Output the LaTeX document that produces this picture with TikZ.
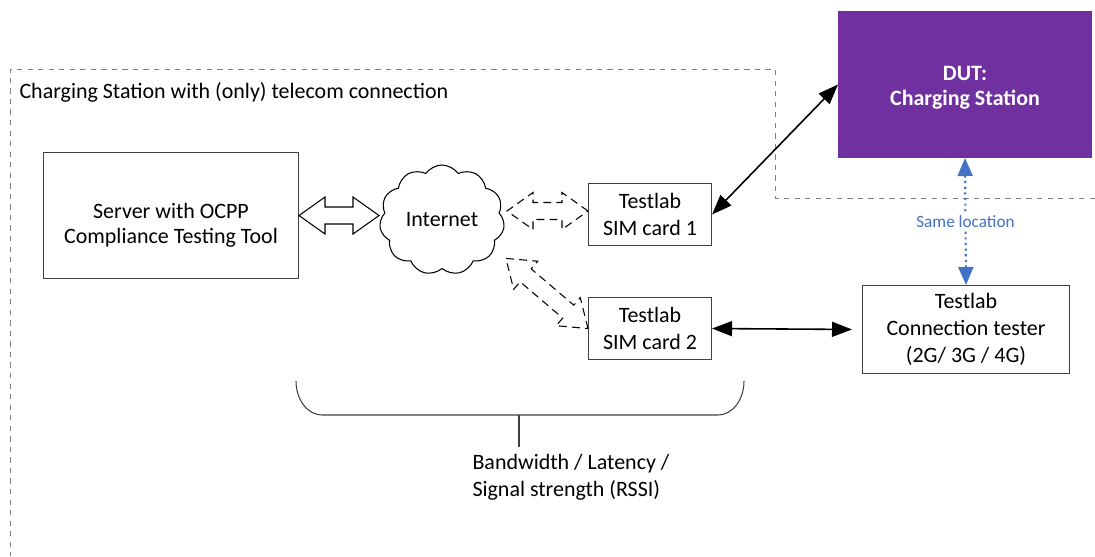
\documentclass[tikz,border=0pt]{standalone}
\usepackage{fontspec}
\setmainfont{Carlito}
\usepackage{tikz}
\usetikzlibrary{positioning, shapes.symbols, arrows.meta}

\definecolor{dutpurple}{HTML}{7030A0}
\definecolor{locblue}{HTML}{4472C4}
\definecolor{linegray}{HTML}{404040}

\tikzset{
  box/.style={draw=linegray, fill=white, align=center, anchor=north west, inner sep=2pt},
  link/.style={{Triangle[length=4mm,width=3mm]}-{Triangle[length=4mm,width=3mm]}, line width=0.9pt},
  lightdash/.style={dash pattern=on 4.5pt off 3pt},
  % hollow double arrow, #1 = length in px
  fat arrow/.pic={
    \draw[fill=white, line join=miter] (0,0) -- (26,18.5) -- (26,8.5) -- (#1-26,8.5) -- (#1-26,18.5) -- (#1,0)
      -- (#1-26,-18.5) -- (#1-26,-8.5) -- (26,-8.5) -- (26,-18.5) -- cycle;
  }
}

\begin{document}
\begin{tikzpicture}[x=0.02cm, y=-0.02cm, font=\fontsize{12.5}{15.3}\selectfont, semithick]
    \useasboundingbox (0,0) rectangle (1095,556);

    % Dashed frame round the telecom side
    \draw[dashed, gray, thin] (1095,198) -- (775,198) -- (775,69) -- (10,69) -- (10,556);
    \node[anchor=west, inner sep=0pt] (frameLabel) at (19,92) {Charging Station with (only) telecom connection};

    % Server and internet
    \node[box, minimum width=5.1cm, minimum height=2.52cm, font=\fontsize{12.5}{14.2}\selectfont,
      text height=32pt, text depth=0pt]
    (Server) at (43,152) {Server with OCPP\\Compliance Testing Tool};

    \node[cloud, draw=black, cloud puffs=11, cloud puff arc=110, aspect=1.15,
      minimum width=2.5cm, minimum height=2.2cm, inner sep=0pt]
    (Internet) at (442,220) {Internet};

    \pic at (Server.east) {fat arrow=80};

    % SIM cards
    \node[box, minimum width=2.46cm, minimum height=1.24cm] (SimOne) at (588,183) {Testlab\\SIM card 1};
    \node[box, minimum width=2.46cm, minimum height=1.24cm] (SimTwo) at (588,297) {Testlab\\SIM card 2};

    \pic[rotate=180, lightdash] at ([yshift=2]SimOne.west) {fat arrow=81};
    \pic[rotate=139.5, lightdash] at (SimTwo.west) {fat arrow=108};

    % Device under test and tester
    \node[box, draw=dutpurple, fill=dutpurple, text=white, font=\fontsize{12.5}{14.2}\selectfont\bfseries,
      minimum width=5.06cm, minimum height=2.92cm, text height=26.5pt, text depth=2.4pt]
    (DUT) at (838,11) {DUT:\\Charging Station};

    \node[box, minimum width=4.14cm, minimum height=1.76cm]
    (Tester) at (862,285) {Testlab\\Connection tester\\(2G/ 3G / 4G)};

    \draw[link] (SimOne.east) -- (DUT.west);
    \draw[link, shorten >=0.2cm] (SimTwo.east) -- (Tester.west);

    \draw[locblue, line width=1.2pt, dotted,
      {Triangle[length=3.6mm,width=3mm]}-{Triangle[length=3.6mm,width=3mm]}]
    (DUT.south) -- node[fill=white, inner sep=1pt, font=\fontsize{9.8}{11}\selectfont] (sameLoc) {Same location} (Tester.north);

    % Brace under the links
    \draw[linegray] (296,381) arc[start angle=180, end angle=270, x radius=26, y radius=-34]
      -- (718,415) arc[start angle=270, end angle=360, x radius=26, y radius=-34];
    \coordinate (braceMid) at (519,415);
    \node[align=left, anchor=north west, inner sep=0pt]
    (measures) at (472,454) {Bandwidth / Latency /\\Signal strength (RSSI)};
    \draw[linegray] (braceMid) -- ++(0,32);

\end{tikzpicture}
\end{document}
